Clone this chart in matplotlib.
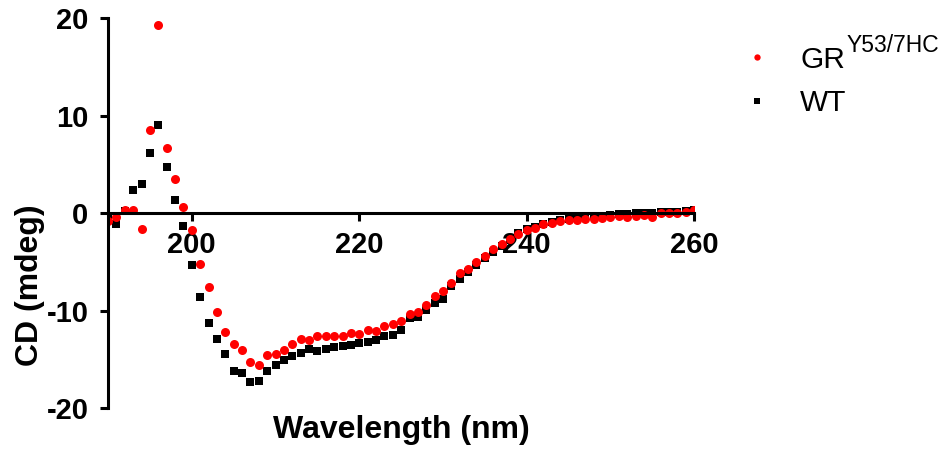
import numpy as np
import matplotlib
matplotlib.use('Agg')
import matplotlib.pyplot as plt

plt.rcParams['font.family'] = ['Liberation Sans', 'DejaVu Sans']
plt.rcParams['axes.unicode_minus'] = False

wavelength = np.arange(190, 261)

wt_cd = [
    -0.6, -1.1, 0.2, 2.4, 3.0, 6.2, 9.0, 4.7, 1.3, -1.3,
    -5.3, -8.6, -11.3, -12.9, -14.5, -16.2, -16.4, -17.3, -17.2, -16.2,
    -15.6, -15.1, -14.7, -14.4, -13.9, -14.2, -13.9, -13.7, -13.6, -13.5,
    -13.3, -13.2, -13.0, -12.6, -12.5, -12.0, -10.8, -10.7, -9.9, -9.2,
    -8.8, -7.5, -6.8, -6.0, -5.3, -4.6, -4.0, -3.4, -2.8, -2.0,
    -1.6, -1.4, -1.1, -0.9, -0.7, -0.6, -0.5, -0.4, -0.35, -0.3,
    -0.2, -0.1, -0.1, 0.0, 0.0, 0.0, 0.1, 0.1, 0.1, 0.2,
    0.3,
]

gr_cd = [
    -0.8, -0.4, 0.3, 0.3, -1.6, 8.5, 19.3, 6.7, 3.5, 0.6,
    -1.7, -5.2, -7.6, -10.2, -12.2, -13.4, -14.0, -15.3, -15.6, -14.6,
    -14.5, -14.1, -13.4, -12.9, -13.0, -12.6, -12.6, -12.6, -12.6, -12.3,
    -12.4, -12.0, -12.1, -11.6, -11.4, -11.1, -10.4, -10.2, -9.4, -8.5,
    -8.0, -7.2, -6.2, -5.7, -5.0, -4.4, -3.7, -3.2, -2.7, -2.2,
    -1.7, -1.5, -1.1, -1.0, -0.85, -0.7, -0.7, -0.65, -0.6, -0.5,
    -0.4, -0.35, -0.4, -0.3, -0.25, -0.4, 0.0, 0.0, 0.05, 0.1,
    0.3,
]

x_ticks = [200, 220, 240, 260]
y_ticks = [-20, -10, 0, 10, 20]

fig = plt.figure(figsize=(9.51, 4.5), dpi=100)
ax = fig.add_axes([0.1136, 0.0933, 0.6164, 0.8667])

ax.plot(wavelength, wt_cd, 's', color='black', ms=6, mew=0, label='WT')
ax.plot(wavelength, gr_cd, 'o', color='#ff0000', ms=6.5, mew=0, label='GR')

ax.set_xlim(190, 260)
ax.set_ylim(-20, 20)
ax.set_xticks(x_ticks)
ax.set_yticks(y_ticks)

for side in ['top', 'right']:
    ax.spines[side].set_visible(False)
ax.spines['bottom'].set_position(('data', 0))
for side in ['left', 'bottom']:
    ax.spines[side].set_linewidth(2.2)
ax.tick_params(width=2.2, length=6, labelsize=21)
ax.tick_params(axis='x', pad=7)
ax.tick_params(axis='y', pad=8)
for lab in ax.get_xticklabels() + ax.get_yticklabels():
    lab.set_fontweight('bold')

fig.text(401 / 951, 1 - 430 / 450, 'Wavelength (nm)', fontsize=23,
         fontweight='bold', ha='center', va='center')
fig.text(30 / 951, 1 - 285 / 450, 'CD (mdeg)', fontsize=23,
         fontweight='bold', ha='center', va='center', rotation=90)

handles, labels = ax.get_legend_handles_labels()
leg = ax.legend(handles[::-1], labels[::-1], loc='upper left',
                bbox_to_anchor=(712 / 951, 1 - 19 / 450),
                bbox_transform=fig.transFigure, frameon=False,
                fontsize=21.5, markerscale=0.7, handlelength=1.2,
                handletextpad=0.85, labelspacing=0.52)

# superscript on the GR label, larger than mathtext would give
ax.annotate('Y53/7HC', xy=(1, 0), xycoords=leg.get_texts()[0],
            xytext=(1, 16), textcoords='offset points',
            fontsize=16.5, ha='left', va='baseline', zorder=10)

plt.savefig('out.png', dpi=100)
